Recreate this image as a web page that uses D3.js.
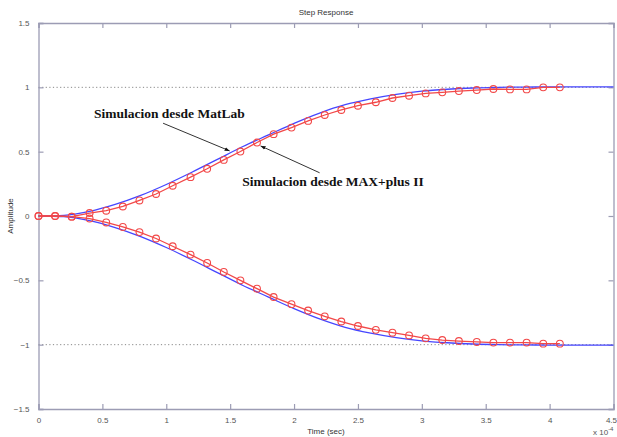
<!DOCTYPE html>
<html>
<head>
<meta charset="utf-8">
<script src="https://cdn.jsdelivr.net/npm/d3@7"></script>
<style>
  body { margin: 0; background: #fff; }
  svg { display: block; }
</style>
</head>
<body>
<div id="chart"></div>
<script>
// time is in units of 1e-4 s
var blueTime = [0, 0.2, 0.4, 0.6, 0.8, 1.0, 1.2, 1.4, 1.6, 1.8, 2.0, 2.2, 2.4, 2.6, 2.8, 3.0, 3.2, 3.4, 3.6, 3.8, 4.0, 4.5];
var blueUp   = [0, 0.005, 0.036, 0.09, 0.16, 0.245, 0.34, 0.44, 0.54, 0.63, 0.72, 0.80, 0.865, 0.91, 0.945, 0.97, 0.985, 0.995, 1.0, 1.002, 1.003, 1.003];
var blueDown = [0, -0.005, -0.036, -0.09, -0.16, -0.245, -0.34, -0.44, -0.54, -0.63, -0.72, -0.80, -0.865, -0.91, -0.945, -0.97, -0.985, -0.995, -1.0, -1.002, -1.003, -1.003];

var redTime = [0, 0.13, 0.26, 0.40, 0.53, 0.66, 0.79, 0.92, 1.05, 1.19, 1.32, 1.45, 1.58, 1.71, 1.84, 1.98,
               2.11, 2.24, 2.37, 2.50, 2.64, 2.77, 2.90, 3.03, 3.16, 3.29, 3.43, 3.56, 3.69, 3.82, 3.95, 4.08];
var redUp   = [0, 0, -0.005, 0.023, 0.041, 0.074, 0.121, 0.171, 0.235, 0.302, 0.367, 0.436, 0.501, 0.571, 0.636, 0.687,
               0.739, 0.785, 0.824, 0.857, 0.884, 0.917, 0.935, 0.953, 0.961, 0.971, 0.979, 0.987, 0.984, 0.984, 1.0, 1.0];
var redDown = [0, 0, -0.005, -0.02, -0.05, -0.085, -0.125, -0.175, -0.235, -0.30, -0.365, -0.435, -0.50, -0.565, -0.63, -0.685,
               -0.735, -0.78, -0.82, -0.855, -0.885, -0.907, -0.928, -0.951, -0.964, -0.972, -0.979, -0.984, -0.984, -0.984, -0.992, -0.992];

var xTicks = [0, 0.5, 1, 1.5, 2, 2.5, 3, 3.5, 4, 4.5];
var yTicks = [-1.5, -1, -0.5, 0, 0.5, 1, 1.5];
var refLines = [1, -1];

// annotations: text position, arrow from, arrow to (data units)
var labels = [
  {text: "Simulacion desde MatLab", tx: 0.434, ty: 0.76, x1: 0.975, y1: 0.721, x2: 1.496, y2: 0.506},
  {text: "Simulacion desde MAX+plus II", tx: 1.595, ty: 0.235, x1: 2.2, y1: 0.336, x2: 1.738, y2: 0.545}
];

var W = 617, H = 437;
var margin = {left: 38.5, right: 3.5, top: 23, bottom: 28};
var axisCol = "#9c9cb4", textCol = "#555";

var svg = d3.select("#chart").append("svg")
  .attr("width", W)
  .attr("height", H);

var x = d3.scaleLinear().domain([0, 4.5]).range([margin.left, W - margin.right]);
var y = d3.scaleLinear().domain([-1.5, 1.5]).range([H - margin.bottom, margin.top]);

svg.append("defs").append("marker")
  .attr("id", "arr")
  .attr("viewBox", "0 0 10 10")
  .attr("refX", 10).attr("refY", 5)
  .attr("markerWidth", 5).attr("markerHeight", 5)
  .attr("orient", "auto")
  .append("path")
    .attr("d", "M0,1 L10,5 L0,9 z")
    .attr("fill", "#111");

// plot box
svg.append("rect")
  .attr("x", x(0)).attr("y", y(1.5))
  .attr("width", x(4.5) - x(0)).attr("height", y(-1.5) - y(1.5))
  .attr("fill", "#fff");

// dotted reference lines
svg.selectAll(".ref").data(refLines).enter().append("line")
  .attr("x1", x(0)).attr("x2", x(4.5))
  .attr("y1", d => y(d)).attr("y2", d => y(d))
  .attr("stroke", "#888").attr("stroke-width", 1)
  .attr("stroke-dasharray", "1.2,2.4");

// axes (ticks inward)
var fmt = d => d3.format("")(d);
var bottomAxis = d3.axisBottom(x).tickValues(xTicks).tickSize(-5).tickPadding(8).tickFormat(fmt);
var topAxis = d3.axisTop(x).tickValues(xTicks).tickSize(-5).tickFormat("");
var leftAxis = d3.axisLeft(y).tickValues(yTicks).tickSize(-5).tickPadding(9).tickFormat(fmt);
var rightAxis = d3.axisRight(y).tickValues(yTicks).tickSize(-5).tickFormat("");

var axes = [
  svg.append("g").attr("transform", `translate(0,${y(-1.5)})`).call(bottomAxis),
  svg.append("g").attr("transform", `translate(0,${y(1.5)})`).call(topAxis),
  svg.append("g").attr("transform", `translate(${x(0)},0)`).call(leftAxis),
  svg.append("g").attr("transform", `translate(${x(4.5)},0)`).call(rightAxis)
];
axes.forEach(a => {
  a.select(".domain").attr("stroke", axisCol).attr("stroke-width", 1.3);
  a.selectAll(".tick line").attr("stroke", axisCol).attr("stroke-width", 1.2);
  a.selectAll(".tick text").attr("fill", textCol).attr("font-size", 8).attr("font-family", "Liberation Sans, Arial, sans-serif");
});
// last x label sits at the window edge
axes[0].selectAll(".tick text").filter(d => d === 4.5).attr("text-anchor", "end").attr("dx", 3);

// curves
var line = d3.line().x(d => x(d[0])).y(d => y(d[1]));
var smooth = d3.line().x(d => x(d[0])).y(d => y(d[1])).curve(d3.curveMonotoneX);

[blueUp, blueDown].forEach(vals => {
  svg.append("path")
    .datum(blueTime.map((t, i) => [t, vals[i]]))
    .attr("d", smooth)
    .attr("fill", "none")
    .attr("stroke", "#4646ff")
    .attr("stroke-width", 1.3);
});

[redUp, redDown].forEach(vals => {
  var pts = redTime.map((t, i) => [t, vals[i]]);
  svg.append("path")
    .datum(pts)
    .attr("d", line)
    .attr("fill", "none")
    .attr("stroke", "#f24848")
    .attr("stroke-width", 1.3);
  svg.append("g").selectAll("circle").data(pts).enter().append("circle")
    .attr("cx", d => x(d[0])).attr("cy", d => y(d[1]))
    .attr("r", 3.4)
    .attr("fill", "none")
    .attr("stroke", "#f24848")
    .attr("stroke-width", 1.1);
});

// annotations
labels.forEach(l => {
  svg.append("line")
    .attr("x1", x(l.x1)).attr("y1", y(l.y1))
    .attr("x2", x(l.x2)).attr("y2", y(l.y2))
    .attr("stroke", "#333").attr("stroke-width", 1)
    .attr("marker-end", "url(#arr)");
  svg.append("text")
    .attr("x", x(l.tx)).attr("y", y(l.ty))
    .attr("font-family", "Liberation Serif, Times New Roman, serif")
    .attr("font-weight", "bold")
    .attr("font-size", 13.5)
    .attr("fill", "#111")
    .text(l.text);
});

// titles
svg.append("text")
  .attr("x", (x(0) + x(4.5)) / 2).attr("y", 15)
  .attr("text-anchor", "middle")
  .attr("font-size", 8).attr("fill", "#333")
  .attr("font-family", "Liberation Sans, Arial, sans-serif")
  .text("Step Response");

svg.append("text")
  .attr("x", (x(0) + x(4.5)) / 2).attr("y", 434)
  .attr("text-anchor", "middle")
  .attr("font-size", 8).attr("fill", "#333")
  .attr("font-family", "Liberation Sans, Arial, sans-serif")
  .text("Time (sec)");

svg.append("text")
  .attr("transform", `translate(13,${y(0)}) rotate(-90)`)
  .attr("text-anchor", "middle")
  .attr("font-size", 8).attr("fill", "#333")
  .attr("font-family", "Liberation Sans, Arial, sans-serif")
  .text("Amplitude");

var ex = svg.append("text")
  .attr("x", 593).attr("y", 435)
  .attr("font-size", 8).attr("fill", textCol)
  .attr("font-family", "Liberation Sans, Arial, sans-serif");
ex.append("tspan").text("x 10");
ex.append("tspan").attr("dy", -4).attr("font-size", 6).text("-4");
</script>
</body>
</html>
